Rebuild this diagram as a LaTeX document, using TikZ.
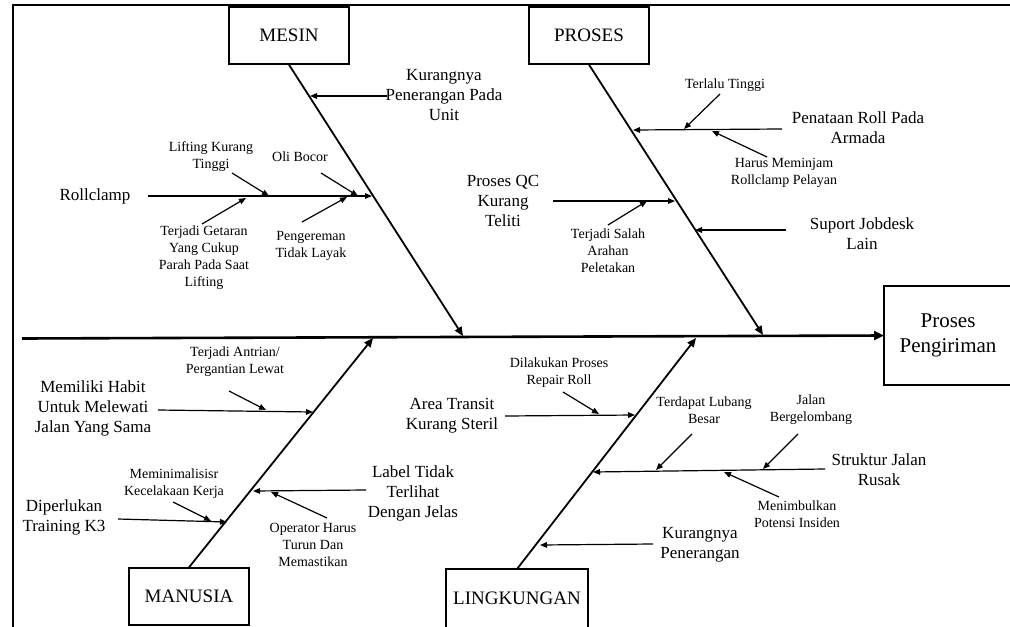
\documentclass[tikz,border=0pt]{standalone}
\usepackage{fontspec}
\setmainfont{Liberation Serif}
\usetikzlibrary{arrows.meta}
\begin{document}
\begin{tikzpicture}[x=0.5pt,y=-0.5pt,
  big/.style={font=\fontsize{8.5}{10}\selectfont, align=center, inner sep=0pt},
  small/.style={font=\fontsize{7}{8.5}\selectfont, align=center, inner sep=0pt},
  cat/.style={draw, line width=0.7pt, minimum width=60pt, minimum height=28.5pt, inner sep=0pt, font=\fontsize{9.5}{11}\selectfont},
  openbox/.style={draw, line width=0.7pt},
  restext/.style={align=center, inner sep=0pt, font=\fontsize{10.5}{12.5}\selectfont},
  frameline/.style={line width=1.1pt},
  spine/.style={line width=1.3pt, -{Triangle[length=5pt,width=4.5pt]}},
  bone/.style={line width=0.9pt, -{Triangle[length=4.5pt,width=3.8pt]}},
  sub/.style={line width=0.6pt, -{Triangle[length=3.5pt,width=2.8pt]}}
]
\useasboundingbox (0,0) rectangle (1010,626);
\clip (0,0) rectangle (1010,626);
\fill[white] (0,0) rectangle (1010,626);

% frame
\coordinate (fbl) at (13,640);
\coordinate (ftl) at (13,5);
\coordinate (ftr) at (1020,5);
\draw[frameline] (fbl) -- (ftl) -- (ftr);

% result box (runs off the right edge)
\coordinate (rtr) at (1030,286);
\coordinate (rtl) at (884,286);
\coordinate (rbl) at (884,385);
\coordinate (rbr) at (1030,385);
\coordinate (res) at (884,335.5);
\draw[openbox] (rtr) -- (rtl) -- (rbl) -- (rbr);
\node[restext] (restxt) at (948,335.5) {Proses\\Pengiriman};
\coordinate (sp0) at (22,338.5);
\draw[spine] (sp0) -- (res);

% categories
\node[cat] (mesin) at (289,35.5) {MESIN};
\node[cat] (proses) at (589,35.5) {PROSES};
\node[cat] (manusia) at (189,596.5) {MANUSIA};
% LINGKUNGAN box (runs off the bottom edge)
\coordinate (lbl) at (446,640);
\coordinate (ltl) at (446,569);
\coordinate (ltr) at (588,569);
\coordinate (lbr) at (588,640);
\coordinate (ling) at (517,569);
\draw[openbox] (lbl) -- (ltl) -- (ltr) -- (lbr);
\node[font=\fontsize{9.5}{11}\selectfont, inner sep=0pt] (lingtxt) at (517,598) {LINGKUNGAN};

\coordinate (mE) at (463,336);
\coordinate (pE) at (763,335);
\coordinate (maE) at (373,338);
\coordinate (lE) at (696,338);
\draw[bone] (mesin.south) -- (mE);
\draw[bone] (proses.south) -- (pE);
\draw[bone] (manusia.north) -- (maE);
\draw[bone] (ling) -- (lE);

% ---- MESIN ----
\node[big] (t1) at (444,95) {Kurangnya\\Penerangan Pada\\Unit};
\coordinate (t1s) at (387,96); \coordinate (t1e) at (310,96);
\draw[sub] (t1s) -- (t1e);

\node[big] (rc) at (95,196) {Rollclamp};
\coordinate (rcs) at (148,196); \coordinate (rce) at (372,196);
\draw[sub] (rcs) -- (rce);

\node[small] (lk) at (211,157) {Lifting Kurang\\Tinggi};
\coordinate (lks) at (232,173); \coordinate (lke) at (269,196);
\draw[sub] (lks) -- (lke);

\node[small] (ob) at (300,157) {Oli Bocor};
\coordinate (obs) at (321,173); \coordinate (obe) at (358,196);
\draw[sub] (obs) -- (obe);

\node[small] (tg) at (204,258) {Terjadi Getaran\\Yang Cukup\\Parah Pada Saat\\Lifting};
\coordinate (tgs) at (202,224); \coordinate (tge) at (246,198);
\draw[sub] (tgs) -- (tge);

\node[small] (pg) at (311,246) {Pengereman\\Tidak Layak};
\coordinate (pgs) at (302,222); \coordinate (pge) at (347,197);
\draw[sub] (pgs) -- (pge);

% ---- PROSES ----
\node[big] (pr) at (858,128) {Penataan Roll Pada\\Armada};
\coordinate (prs) at (782,129); \coordinate (pre) at (633,130);
\draw[sub] (prs) -- (pre);

\node[small] (tt) at (725,85) {Terlalu Tinggi};
\coordinate (tts) at (720,94); \coordinate (tte) at (684,129);
\draw[sub] (tts) -- (tte);

\node[small] (hm) at (784,173) {Harus Meminjam\\Rollclamp Pelayan};
\coordinate (hms) at (767,157); \coordinate (hme) at (712,131);
\draw[sub] (hms) -- (hme);

\node[big] (qc) at (503,201) {Proses QC\\Kurang\\Teliti};
\coordinate (qcs) at (553,201); \coordinate (qce) at (675,201);
\draw[sub] (qcs) -- (qce);

\node[small] (ts) at (608,251) {Terjadi Salah\\Arahan\\Peletakan};
\coordinate (tss) at (608,225); \coordinate (tse) at (647,201);
\draw[sub] (tss) -- (tse);

\node[big] (sj) at (862,234) {Suport Jobdesk\\Lain};
\coordinate (sjs) at (786,230); \coordinate (sje) at (695,230);
\draw[sub] (sjs) -- (sje);

% ---- MANUSIA ----
\node[big] (mh) at (93,408) {Memiliki Habit\\Untuk Melewati\\Jalan Yang Sama};
\coordinate (mhs) at (158,410); \coordinate (mhe) at (313,412);
\draw[sub] (mhs) -- (mhe);

\node[small] (ta) at (235,362) {Terjadi Antrian/\\Pergantian Lewat};
\coordinate (tas) at (229,391); \coordinate (tae) at (266,410);
\draw[sub] (tas) -- (tae);

\node[big] (dk) at (64,517) {Diperlukan\\Training K3};
\coordinate (dks) at (118,519); \coordinate (dke) at (227,522);
\draw[sub] (dks) -- (dke);

\node[small] (mk) at (174,484) {Meminimalisisr\\Kecelakaan Kerja};
\coordinate (mks) at (173,502); \coordinate (mke) at (211,521);
\draw[sub] (mks) -- (mke);

\node[big] (lt) at (413,493) {Label Tidak\\Terlihat\\Dengan Jelas};
\coordinate (lts) at (366,490); \coordinate (lte) at (253,491);
\draw[sub] (lts) -- (lte);

\node[small] (oh) at (313,545) {Operator Harus\\Turun Dan\\Memastikan};
\coordinate (ohs) at (327,518); \coordinate (ohe) at (271,492);
\draw[sub] (ohs) -- (ohe);

% ---- LINGKUNGAN ----
\node[big] (ar) at (452,416) {Area Transit\\Kurang Steril};
\coordinate (ars) at (505,416); \coordinate (are) at (635,415);
\draw[sub] (ars) -- (are);

\node[small] (dp) at (559,373) {Dilakukan Proses\\Repair Roll};
\coordinate (dps) at (563,392); \coordinate (dpe) at (599,414);
\draw[sub] (dps) -- (dpe);

\node[big] (sk) at (879,470) {Struktur Jalan\\Rusak};
\coordinate (sks) at (825,469); \coordinate (ske) at (593,472);
\draw[sub] (sks) -- (ske);

\node[small] (tl) at (704,410) {Terdapat Lubang\\Besar};
\coordinate (tls) at (692,434); \coordinate (tle) at (656,470);
\draw[sub] (tls) -- (tle);

\node[small] (jb) at (811,410) {Jalan\\Bergelombang};
\coordinate (jbs) at (798,434); \coordinate (jbe) at (763,469);
\draw[sub] (jbs) -- (jbe);

\node[small] (mp) at (797,514) {Menimbulkan\\Potensi Insiden};
\coordinate (mps) at (779,497); \coordinate (mpe) at (724,472);
\draw[sub] (mps) -- (mpe);

\node[big] (kp) at (700,545) {Kurangnya\\Penerangan};
\coordinate (kps) at (653,544); \coordinate (kpe) at (540,545);
\draw[sub] (kps) -- (kpe);
\end{tikzpicture}
\end{document}
